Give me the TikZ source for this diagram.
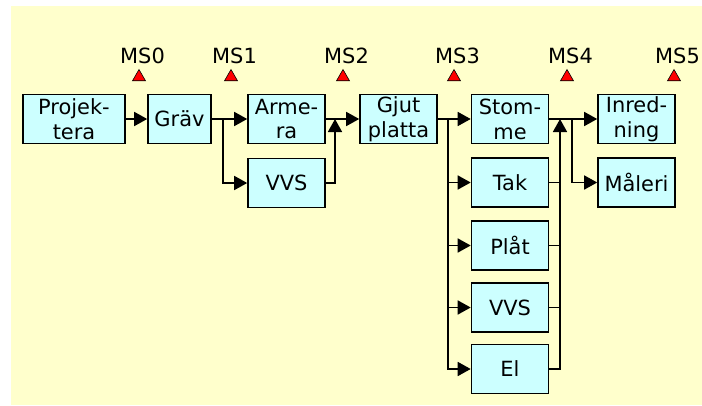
\documentclass[tikz,border=0pt]{standalone}
\usepackage{fontspec}
\setmainfont{DejaVu Sans}
\usetikzlibrary{shapes.geometric,arrows.meta,positioning}
\definecolor{paper}{HTML}{FFFFCC}
\definecolor{boxfill}{HTML}{CCFFFF}
\begin{document}
\begin{tikzpicture}[x=1bp, y=-1bp,
    task/.style={draw, line width=1.6bp, fill=boxfill, minimum width=77bp, minimum height=49bp,
                 inner sep=0pt, align=center, font=\fontsize{21}{25}\selectfont},
    milestone/.style={draw, line width=0.6bp, fill=red, regular polygon, regular polygon sides=3,
                 minimum size=15bp, inner sep=0pt},
    mslbl/.style={font=\fontsize{21}{24}\selectfont, inner sep=0pt, xshift=3.5bp},
    link/.style={line width=1.6bp, -{Triangle[length=13bp, width=14bp]}},
    wire/.style={line width=1.6bp}]

    \useasboundingbox (0,0) rectangle (702,405);
    \fill[paper] (11,6) rectangle (702,405);

    % Milestones
    \node[milestone, label={[mslbl, label distance=5bp]above:MS0}] (MS0) at (139,77) {};
    \node[milestone, label={[mslbl, label distance=5bp]above:MS1}] (MS1) at (231,77) {};
    \node[milestone, label={[mslbl, label distance=5bp]above:MS2}] (MS2) at (343,77) {};
    \node[milestone, label={[mslbl, label distance=5bp]above:MS3}] (MS3) at (454,77) {};
    \node[milestone, label={[mslbl, label distance=5bp]above:MS4}] (MS4) at (567,77) {};
    \node[milestone, label={[mslbl, label distance=5bp]above:MS5}] (MS5) at (674,77) {};

    % Activities
    \node[task, minimum width=102bp] (Proj) at (74,119) {Projek-\\tera};
    \node[task, minimum width=63bp] (Grav) at (179.5,119) {Gräv};
    \node[task] (Arm) at (286.5,119) {Arme-\\ra};
    \node[task] (VVSa) at (286.5,183) {VVS};
    \node[task] (Gjut) at (398.5,119) {Gjut\\platta};
    \node[task] (Stom) at (510,119) {Stom-\\me};
    \node[task] (Tak) at (510,182.5) {Tak};
    \node[task] (Plat) at (510,245.5) {Plåt};
    \node[task] (VVSb) at (510,307.5) {VVS};
    \node[task] (El) at (510,369) {El};
    \node[task] (Inr) at (636.5,119) {Inred-\\ning};
    \node[task] (Mal) at (636.5,182.5) {Måleri};

    % Branch and join points
    \coordinate (b1) at (223,119);
    \coordinate (j1) at (335,119);
    \coordinate (b2) at (448,119);
    \coordinate (j2) at (560,119);
    \coordinate (b3) at (572,119);

    % Arcs
    \draw[link] (Proj) -- (Grav);
    \draw[link] (Grav) -- (Arm);
    \draw[link] (b1) |- (VVSa);
    \draw[link] (Arm) -- (Gjut);
    \draw[link] (VVSa.east) -| (j1);
    \draw[link] (Gjut) -- (Stom);
    \draw[link] (b2) |- (Tak);
    \draw[link] (b2) |- (Plat);
    \draw[link] (b2) |- (VVSb);
    \draw[link] (b2) |- (El);
    \draw[wire] (Tak.east) -- (Tak.east -| j2);
    \draw[wire] (Plat.east) -- (Plat.east -| j2);
    \draw[wire] (VVSb.east) -- (VVSb.east -| j2);
    \draw[link] (El.east) -| (j2);
    \draw[link] (Stom) -- (Inr);
    \draw[link] (b3) |- (Mal);
\end{tikzpicture}
\end{document}
